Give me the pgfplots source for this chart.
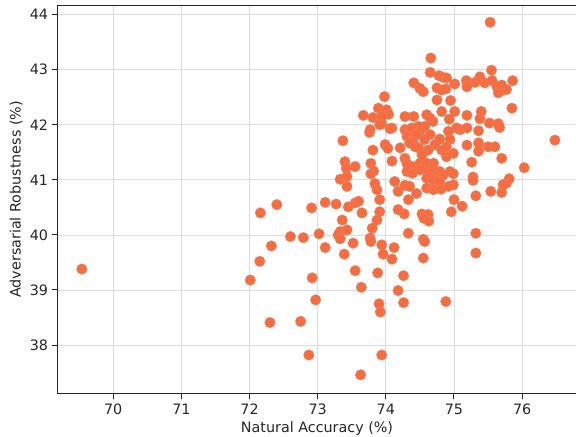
\documentclass[border=0pt]{standalone}
\usepackage{pgfplots}
\pgfplotsset{compat=1.18}
\usepackage{fontspec}
\setmainfont{DejaVu Sans}
\definecolor{dot}{HTML}{F46D43}
\definecolor{gridc}{HTML}{DDDDDD}
\begin{document}
\begin{tikzpicture}
\useasboundingbox (-46.4bp,-35.2bp) rectangle (414.4bp,314.4bp);
\begin{axis}[
  at={(0,0)}, anchor=south west,
  scale only axis, width=414.4bp, height=309.8bp,
  xmin=69.19, xmax=76.79, ymin=37.13, ymax=44.16,
  xtick={70,71,72,73,74,75,76}, ytick={38,39,40,41,42,43,44},
  xtick pos=bottom, ytick pos=left, tick align=outside,
  major tick length=4.5bp,
  every tick/.style={black!85, line width=0.8bp},
  axis line style={draw=none},
  grid=major, major grid style={gridc, line width=0.6bp},
  /pgf/number format/assume math mode=true,
  ticklabel style={font=\fontsize{11.5}{13}\selectfont, text=black!85},
  xticklabel style={yshift=-0.5bp},
  label style={font=\fontsize{11.5}{13}\selectfont, text=black!85},
  xlabel={Natural Accuracy (\%)}, ylabel={Adversarial Robustness (\%)},
  xlabel style={yshift=1bp},
  ylabel style={yshift=-1bp},
  clip=false,
]
\addplot[only marks, mark=*, mark size=4.2bp, draw=none, fill=dot, mark options={draw=dot!90!white, line width=0.3bp, fill=dot}] table {
x y
75.53 43.86
74.66 43.21
74.65 42.95
74.78 42.89
74.84 42.86
74.41 42.76
74.50 42.66
74.55 42.60
74.75 42.67
74.88 42.65
74.82 42.63
75.01 42.74
75.18 42.80
75.19 42.69
75.31 42.77
75.38 42.87
75.45 42.76
75.55 42.99
75.56 42.80
75.63 42.69
75.70 42.72
75.70 42.62
75.77 42.64
75.86 42.80
75.65 42.58
74.89 42.85
74.75 42.45
74.95 42.44
73.98 42.51
73.89 42.30
74.01 42.27
74.04 42.19
73.94 42.15
73.67 42.17
73.81 42.13
73.94 42.02
74.09 41.94
73.76 41.86
73.37 41.71
74.28 42.15
74.41 42.15
74.60 42.18
74.65 42.12
74.69 42.06
74.82 42.24
74.57 41.97
75.01 42.24
74.93 42.10
75.19 42.17
75.40 42.24
75.38 42.11
75.52 42.03
75.65 42.02
75.67 41.95
75.85 42.30
76.48 41.72
75.09 41.91
75.19 41.94
75.36 41.89
75.04 41.94
74.92 41.88
74.31 41.79
74.40 41.73
74.50 41.88
74.79 41.74
74.94 41.73
75.19 41.63
75.36 41.67
75.50 41.60
75.60 41.60
73.99 41.64
74.03 41.57
73.81 41.54
74.28 41.91
74.33 41.82
74.38 41.94
74.48 41.97
74.45 41.82
74.38 41.70
74.48 41.58
74.57 41.73
74.65 41.82
74.35 41.67
74.43 41.60
74.89 41.60
74.99 41.48
74.89 41.42
74.82 41.54
75.36 41.52
73.77 41.91
73.91 42.00
74.06 41.93
74.09 41.34
73.40 41.33
73.55 41.24
73.42 41.21
73.78 41.30
73.82 41.16
73.78 41.11
74.28 41.39
74.31 41.29
74.40 41.24
74.50 41.30
74.60 41.30
74.70 41.30
74.31 41.15
74.39 41.12
74.50 41.18
74.62 41.15
74.70 41.21
74.79 41.15
75.26 41.32
75.70 41.39
76.03 41.22
73.33 41.01
73.43 41.06
73.43 40.88
73.84 40.93
73.87 40.82
74.13 40.97
74.28 40.90
74.35 40.88
74.18 40.79
74.60 41.03
74.75 41.08
74.84 41.09
74.94 41.15
74.99 41.11
74.70 41.00
74.79 40.97
74.99 40.91
74.60 40.85
74.70 40.82
74.81 40.83
74.92 40.88
75.28 41.05
75.28 40.99
74.45 40.75
73.91 40.64
74.33 40.64
75.00 40.64
75.12 40.52
74.96 40.42
75.32 40.71
75.54 40.79
75.70 40.77
75.77 40.94
75.81 41.02
75.72 40.91
72.16 40.40
72.40 40.55
72.91 40.49
73.11 40.59
73.27 40.56
73.45 40.51
73.55 40.58
73.60 40.61
73.65 40.40
73.36 40.27
73.91 40.42
73.87 40.27
73.80 40.12
73.77 39.94
73.78 39.88
74.18 40.46
74.27 40.38
74.53 40.38
74.62 40.37
74.56 40.30
74.63 40.25
73.33 40.06
73.43 40.09
73.30 40.00
73.33 39.93
73.52 39.85
73.39 39.65
72.60 39.97
72.79 39.95
73.02 40.02
72.32 39.80
72.15 39.52
72.01 39.18
73.11 39.77
72.92 39.22
73.55 39.35
73.88 39.31
74.26 39.26
73.64 39.05
74.18 38.99
73.94 39.82
74.12 39.77
73.96 39.65
74.09 39.56
74.33 40.03
74.55 39.92
74.57 39.88
74.55 39.58
75.32 40.03
75.32 39.67
69.54 39.38
72.30 38.41
72.75 38.43
72.97 38.82
73.90 38.75
73.92 38.60
74.26 38.77
74.88 38.79
72.87 37.82
73.94 37.82
73.63 37.46
74.21 41.58
74.62 41.54
74.72 41.64
74.53 41.45
};
\draw[line width=0.8bp, black!85] (rel axis cs:1.05,1) -- (rel axis cs:0,1) -- (rel axis cs:0,0) -- (rel axis cs:1.05,0);
\end{axis}
\end{tikzpicture}
\end{document}
